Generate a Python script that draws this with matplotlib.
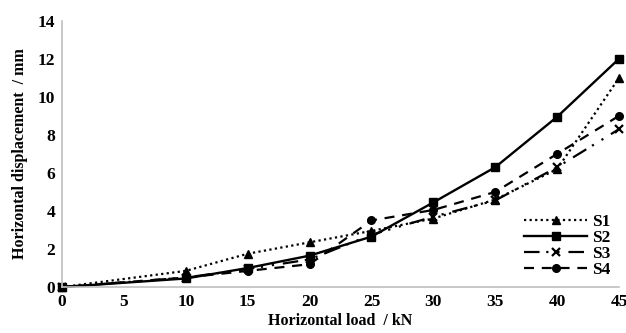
import matplotlib
matplotlib.use("Agg")
import matplotlib.pyplot as plt

plt.rcParams["font.family"] = ["Liberation Serif", "DejaVu Serif"]
plt.rcParams["font.weight"] = "bold"

load = [0, 10, 15, 20, 25, 30, 35, 40, 45]
s1 = [0, 0.85, 1.75, 2.35, 2.95, 3.6, 4.6, 6.2, 11.0]
s2 = [0, 0.45, 1.0, 1.65, 2.65, 4.45, 6.3, 8.95, 12.0]
s3 = [0, 0.5, 0.95, 1.45, 2.75, 3.7, 4.55, 6.3, 8.3]
s4 = [0, 0.5, 0.85, 1.2, 3.5, 4.05, 5.0, 7.0, 9.0]

xticks = [0, 5, 10, 15, 20, 25, 30, 35, 40, 45]
yticks = [0, 2, 4, 6, 8, 10, 12, 14]

fig = plt.figure(figsize=(6.26, 3.33), dpi=100)
ax = fig.add_axes([0.099, 0.138, 0.89, 0.80])

k = dict(color="black", ms=5.5, clip_on=False)
ax.plot(load, s1, linestyle=(0, (1, 1.5)), lw=1.6, marker="^", label="S1", **k)
ax.plot(load, s2, linestyle="-", lw=1.7, marker="s", label="S2", **k)
ax.plot(load, s3, linestyle=(0, (7, 3, 1, 4, 1, 4)), lw=1.6, marker="x", mew=1.6, label="S3", **k)
ax.plot(load, s4, linestyle=(0, (4.5, 3.5)), lw=1.6, marker="o", label="S4", **k)

ax.set_xlim(0, 45)
ax.set_ylim(0, 14)
ax.set_xticks(xticks)
ax.set_yticks(yticks)
ax.tick_params(length=0, labelsize=12.5, pad=5)
for s in ["top", "right"]:
    ax.spines[s].set_visible(False)
for s in ["left", "bottom"]:
    ax.spines[s].set_color("#bfbfbf")
    ax.spines[s].set_linewidth(1.2)

ax.set_xlabel("Horizontal load  / kN", fontsize=11.5, fontweight="bold", labelpad=2)
ax.set_ylabel("Horizontal displacement  / mm", fontsize=11.5, fontweight="bold", labelpad=7)

ax.legend(loc="lower right", frameon=False, fontsize=12.5, handlelength=3.6,
          handletextpad=0.3, labelspacing=0.0, borderaxespad=0.1,
          bbox_to_anchor=(1.0, 0.0))

fig.savefig("out.png", dpi=100)
